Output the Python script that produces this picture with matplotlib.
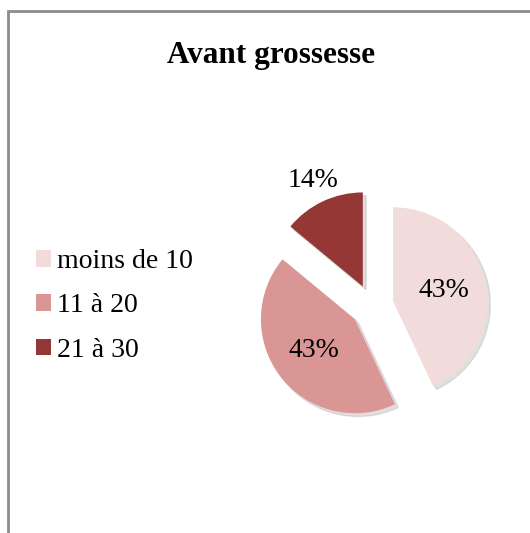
import numpy as np
import matplotlib.pyplot as plt
from matplotlib.patches import Rectangle

title = "Avant grossesse"
categories = ["moins de 10", "11 à 20", "21 à 30"]
values = [43, 43, 14]
colors = ["#F2DCDB", "#D99694", "#953735"]

W, H = 530, 533
fig = plt.figure(figsize=(W / 100, H / 100), dpi=100)

# chart frame (cropped at right and bottom)
fig.patches.append(Rectangle((8 / W, -0.1), 1.2, 1 - 11 / H + 0.1, transform=fig.transFigure,
                             fill=False, edgecolor="#8c8c8c", linewidth=2))

fig.text(271 / W, 1 - 56 / H, title, ha="center", va="center",
         fontsize=22.5, fontweight="bold", family="Liberation Serif")

# pie axes: center at (372, 306) px, radius ~94 px
size = 282
ax = fig.add_axes([(372 - size / 2) / W, (H - 306 - size / 2) / H, size / W, size / H])
wedges, texts, autotexts = ax.pie(values, colors=colors, startangle=90, counterclock=False,
                                  explode=[0.23] * 3, autopct="%1.0f%%", pctdistance=0.55,
                                  shadow={"ox": 0.025, "oy": -0.025, "facecolor": "#000000", "alpha": 0.12},
                                  textprops={"fontsize": 20, "family": "Liberation Serif"})
ax.set_xlim(-1.5, 1.5)
ax.set_ylim(-1.5, 1.5)
ax.set_aspect("equal")

# small slice: label outside
w = wedges[2]
ang = np.deg2rad((w.theta1 + w.theta2) / 2)
cx, cy = w.center
autotexts[2].set_position((cx + 1.24 * np.cos(ang), cy + 1.24 * np.sin(ang)))

leg = fig.legend(wedges, categories, loc="center left", bbox_to_anchor=(11 / W, 1 - 306 / H),
                 frameon=False, prop={"family": "Liberation Serif", "size": 20},
                 handlelength=0.54, handleheight=0.54, handletextpad=0.22, labelspacing=0.69)

fig.savefig("out.png", dpi=100)
